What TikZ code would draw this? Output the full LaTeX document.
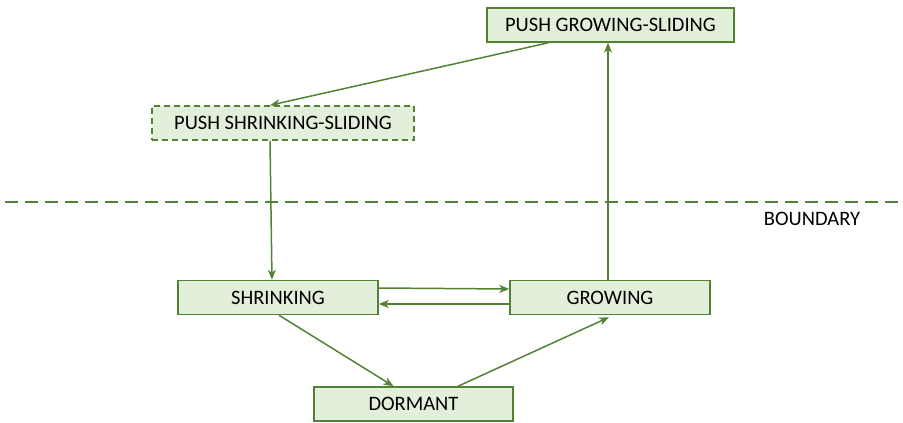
\documentclass[tikz,border=0pt]{standalone}
\usepackage{fontspec}
\setmainfont{Carlito}
\usetikzlibrary{arrows.meta}
\definecolor{gline}{HTML}{548235}
\definecolor{gfill}{HTML}{E2EFDA}
\begin{document}
\begin{tikzpicture}[x=1pt,y=-1pt,
  box/.style={draw=gline,fill=gfill,line width=1.5pt,minimum width=#1,minimum height=34pt,inner sep=0pt,font=\fontsize{20.5}{24}\selectfont},
  conn/.style={draw=gline,line width=1.5pt,-{Stealth[length=10pt,width=8pt,inset=3pt]}}]
\useasboundingbox (0,0) rectangle (903,423);
\node[box=247pt] (pgs) at (610.5,25) {PUSH GROWING-SLIDING};
\node[box=262pt,dashed,dash pattern=on 6pt off 4pt] (pss) at (283,123) {PUSH SHRINKING-SLIDING};
\node[box=200pt] (shr) at (278,297.5) {SHRINKING};
\node[box=200pt] (gro) at (610,297.5) {GROWING};
\node[box=199pt] (dor) at (413.5,404) {DORMANT};
\coordinate (bl) at (5,202);
\coordinate (br) at (903,202);
\draw[gline,line width=1.4pt,dash pattern=on 13pt off 7pt] (bl) -- (br);
\node[font=\fontsize{20.5}{24}\selectfont] (bnd) at (812,219) {BOUNDARY};
\draw[conn] ([xshift=-62pt]pgs.south) -- ([xshift=-13pt]pss.north);
\draw[conn] ([xshift=-13pt]pss.south) -- ([xshift=-6pt]shr.north);
\draw[conn] ([xshift=-2pt]gro.north) -- ([xshift=-2.5pt]pgs.south);
\draw[conn] ([yshift=9.5pt]shr.east) -- ([yshift=8.5pt]gro.west);
\draw[conn] ([yshift=-6.5pt]gro.west) -- ([yshift=-6.5pt]shr.east);
\draw[conn] ([xshift=1pt]shr.south) -- ([xshift=-20pt]dor.north);
\draw[conn] ([xshift=44.5pt]dor.north) -- ([xshift=-1pt,yshift=-2pt]gro.south);
\end{tikzpicture}
\end{document}
